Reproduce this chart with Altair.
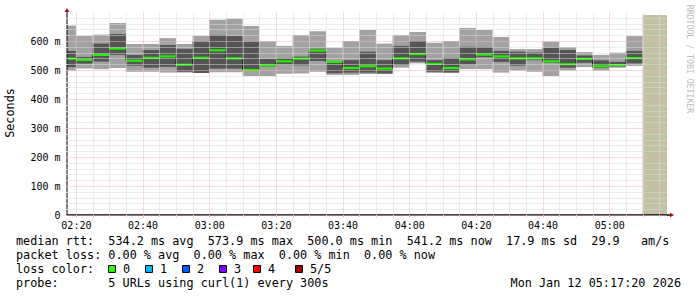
import altair as alt
import pandas as pd

# ---------------- data ----------------
times = ["02:15", "02:20", "02:25", "02:30", "02:35", "02:40", "02:45", "02:50", "02:55",
         "03:00", "03:05", "03:10", "03:15", "03:20", "03:25", "03:30", "03:35", "03:40",
         "03:45", "03:50", "03:55", "04:00", "04:05", "04:10", "04:15", "04:20", "04:25",
         "04:30", "04:35", "04:40", "04:45", "04:50", "04:55", "05:00", "05:05"]
ping_min = [498, 505, 503, 507, 494, 494, 491, 491, 490, 492, 492, 479, 479, 487, 488, 494, 483, 483,
            486, 486, 508, 523, 490, 491, 503, 503, 491, 498, 494, 479, 498, 510, 498, 508, 514]
ping_q2 = [510, 522, 529, 552, 515, 508, 511, 494, 490, 505, 505, 497, 512, 519, 516, 531, 489, 491,
           491, 488, 517, 529, 494, 491, 519, 544, 528, 515, 534, 525, 508, 525, 508, 512, 523]
ping_med = [539, 535, 552, 573.9, 532, 542, 547, 518, 542, 568, 540, 500.0, 516, 530, 539, 567, 528, 507,
            513, 505, 540, 555, 521, 507, 537, 553, 547, 540, 540, 530, 520, 538, 513, 517, 541.2]
ping_q4 = [566, 545, 591, 624, 552, 569, 586, 573, 598, 621, 617, 598, 538, 540, 546, 573, 531, 534,
           563, 534, 583, 600, 534, 541, 580, 579, 566, 563, 560, 577, 569, 550, 533, 528, 566]
ping_max = [653, 618, 622, 662, 590, 590, 610, 590, 618, 673, 677, 652, 599, 583, 621, 634, 577, 600,
            638, 591, 621, 631, 594, 600, 645, 638, 614, 572, 572, 598, 579, 562, 552, 560, 617]
step_minutes = 5
window_start = "02:17:20"
window_end = "05:17:20"
unknown_start = "05:10"
unknown_top = 690
y_max = 700
x_tick_labels = ["02:20", "02:40", "03:00", "03:20", "03:40", "04:00", "04:20", "04:40", "05:00"]

stats_line1 = "median rtt:  534.2 ms avg  573.9 ms max  500.0 ms min  541.2 ms now  17.9 ms sd  29.9   am/s"
stats_line2 = "packet loss: 0.00 % avg  0.00 % max  0.00 % min  0.00 % now"
loss_title = "loss color:"
loss_labels = ["0", "1", "2", "3", "4", "5/5"]
loss_colors = ["#26ff00", "#00b8ff", "#0059ff", "#7e00ff", "#ff0000", "#a10000"]
probe_line = "probe:       5 URLs using curl(1) every 300s"
date_line = "Mon Jan 12 05:17:20 2026"
watermark = "RRDTOOL / TOBI OETIKER"
y_title = "Seconds"


def to_min(s):
    parts = [int(p) for p in s.split(":")]
    v = parts[0] * 60 + parts[1] + (parts[2] / 60 if len(parts) > 2 else 0)
    return int(v) if v == int(v) else v


def nb(s):
    return s.replace(" ", "\u00a0")


X0, X1 = to_min(window_start), to_min(window_end)
starts = [to_min(t) for t in times]
df = pd.DataFrame({
    "start": starts,
    "end": [s + step_minutes for s in starts],
    "lo": ping_min, "q2": ping_q2, "med": ping_med, "q4": ping_q4, "hi": ping_max,
})
line_df = pd.concat([df[["start", "med"]],
                     pd.DataFrame({"start": [starts[-1] + step_minutes], "med": [ping_med[-1]]})],
                    ignore_index=True)
unk_df = pd.DataFrame({"start": [to_min(unknown_start)], "end": [X1], "lo": [0], "hi": [unknown_top]})

# ---------------- layout / style ----------------
OX, OY = 67, 12
W, H = 600, 203
MONO = "DejaVu Sans Mono"
LIGHT, DARK, GREEN, TAN = "#a2a2a2", "#555555", "#22f000", "#c2c2a2"
MAJ, MIN = "#eeb4b4", "#dadada"

x_label_expr = " : ".join(f"datum.value === {to_min(t)} ? '{t}'" for t in x_tick_labels) + " : ''"
x_axis = alt.Axis(values=list(range(140, 317, 5)), labelExpr=x_label_expr, title=None,
                  domain=False, grid=True, gridDash=[1, 1], gridWidth=1,
                  gridColor={"condition": {"test": "datum.value % 20 === 0", "value": MAJ}, "value": MIN},
                  tickColor={"condition": {"test": "datum.value % 20 === 0", "value": MAJ}, "value": MIN},
                  tickSize=2, labelPadding=3, labelFont=MONO, labelFontSize=10, labelColor="#000000",
                  labelOverlap=False, labelFlush=False, zindex=1)
y_axis = alt.Axis(values=list(range(0, 700, 20)),
                  labelExpr="datum.value % 100 === 0 ? (datum.value === 0 ? '0\u00a0\u00a0' : datum.value + ' m') : ''",
                  title=None, domain=False, grid=True, gridDash=[1, 1], gridWidth=1,
                  gridColor={"condition": {"test": "datum.value % 100 === 0", "value": MAJ}, "value": MIN},
                  tickColor={"condition": {"test": "datum.value % 100 === 0", "value": MAJ}, "value": MIN},
                  tickSize=2, labelPadding=5, labelFont=MONO, labelFontSize=10, labelColor="#000000",
                  labelOverlap=False, zindex=1)
xs = alt.Scale(domain=[X0, X1], nice=False, zero=False)
ys = alt.Scale(domain=[0, y_max], nice=False)

base = alt.Chart(df)
light = base.mark_rect(color=LIGHT, clip=True).encode(
    x=alt.X("start:Q", scale=xs, axis=x_axis), x2="end:Q",
    y=alt.Y("lo:Q", scale=ys, axis=y_axis), y2="hi:Q")
dark = base.mark_rect(color=DARK, clip=True).encode(
    x=alt.X("start:Q", scale=xs, axis=x_axis), x2="end:Q",
    y=alt.Y("q2:Q", scale=ys, axis=y_axis), y2="q4:Q")
step = alt.Chart(line_df).mark_line(interpolate="step-after", color="#202020", strokeWidth=1, clip=True).encode(
    x=alt.X("start:Q", scale=xs, axis=x_axis), y=alt.Y("med:Q", scale=ys, axis=y_axis))
green = base.mark_rule(color=GREEN, strokeWidth=2.2, clip=True).encode(
    x=alt.X("start:Q", scale=xs, axis=x_axis), x2="end:Q",
    y=alt.Y("med:Q", scale=ys, axis=y_axis))
unknown = alt.Chart(unk_df).mark_rect(color=TAN, clip=True).encode(
    x=alt.X("start:Q", scale=xs, axis=x_axis), x2="end:Q",
    y=alt.Y("lo:Q", scale=ys, axis=y_axis), y2="hi:Q")

one = pd.DataFrame({"k": [0]})
xline = alt.Chart(one).mark_rule(color="#000000", strokeWidth=1.5).encode(
    x=alt.value(0), x2=alt.value(W + 4), y=alt.value(H))
yline = alt.Chart(one).mark_rule(color="#000000", strokeWidth=1).encode(
    x=alt.value(0), y=alt.value(H), y2=alt.value(-2))
arrow_up = alt.Chart(one).mark_point(shape="triangle-up", filled=True, color="#a01010", size=22, opacity=1).encode(
    x=alt.value(0), y=alt.value(-2))
arrow_right = alt.Chart(one).mark_point(shape="triangle-right", filled=True, color="#a01010", size=22, opacity=1).encode(
    x=alt.value(W + 5), y=alt.value(H))


def label(text, x, y, size=11.8, align="left", angle=0, color="#000000"):
    return alt.Chart(pd.DataFrame({"t": [nb(text)]})).mark_text(
        align=align, baseline="middle", font=MONO, fontSize=size, color=color, angle=angle).encode(
        x=alt.value(x - OX), y=alt.value(y - OY), text="t:N")


texts = [
    label(stats_line1, 16, 241),
    label(stats_line2, 16, 255),
    label(loss_title, 16, 269),
    label(probe_line, 16, 283),
    label(date_line, 681, 283, align="right"),
    label(y_title, 10, 113, align="center", angle=270),
    label(watermark, 689, 59, size=8.2, align="center", angle=90, color="#bcbcbc"),
]
box_cx = [112, 149, 186, 223, 257, 299]
for cx, lab, col in zip(box_cx, loss_labels, loss_colors):
    texts.append(alt.Chart(one).mark_point(shape="square", filled=True, fill=col, stroke="#000000",
                                           strokeWidth=1, size=48, opacity=1).encode(
        x=alt.value(cx - OX), y=alt.value(269 - OY)))
    texts.append(label(lab, cx + 11, 269))

chart = alt.layer(light, dark, step, green, unknown, xline, yline, arrow_up, arrow_right, *texts).properties(
    width=W, height=H, autosize=alt.AutoSizeParams(type="none"),
    padding={"left": OX, "top": OY, "right": 697 - OX - W, "bottom": 297 - OY - H},
    background="#ffffff",
).configure_view(stroke=None)

chart.save("out.html", embed_options={"renderer": "svg", "actions": False})
